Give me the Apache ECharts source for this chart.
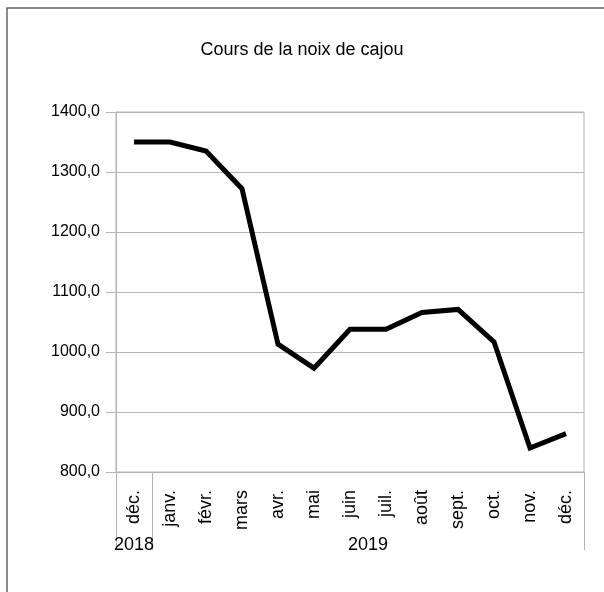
<!DOCTYPE html>
<html style="height: 100%">
<head>
    <meta charset="utf-8">
    <script src="https://cdn.jsdelivr.net/npm/echarts@6/dist/echarts.min.js"></script>
</head>
<body style="height: 100%; margin: 0; background: #fff">
<div id="container" style="width: 604px; height: 592px"></div>
<script type="text/javascript">
// mois (catégories) et cours
var months = ['déc.', 'janv.', 'févr.', 'mars', 'avr.', 'mai', 'juin', 'juil.', 'août', 'sept.', 'oct.', 'nov.', 'déc.'];
var prices = [1350, 1350, 1335, 1272, 1013, 973, 1038, 1038, 1066, 1071, 1017, 840, 864];
// second niveau : années et nombre de mois de chaque groupe
var years = ['2018', '2019'];
var yearSpans = [1, 12];

// bornes et centres des groupes d'années (en unités de catégories)
var yearBounds = [0];
var yearCenters = [];
yearSpans.forEach(function (n, i) {
    yearCenters.push(yearBounds[i] + n / 2);
    yearBounds.push(yearBounds[i] + n);
});

var gridColor = '#b3b3b3';
var font = 'Liberation Sans, Arial, sans-serif';

var myChart = echarts.init(document.getElementById('container'));
var option = {
    backgroundColor: '#fff',
    animation: false,
    title: {
        text: 'Cours de la noix de cajou',
        left: 'center',
        top: 36,
        textStyle: { color: '#000', fontSize: 18, fontWeight: 'normal', fontFamily: font }
    },
    graphic: [{
        type: 'rect',
        shape: { x: 7, y: 8, width: 800, height: 800 },
        style: { fill: null, stroke: '#666', lineWidth: 1.5 },
        silent: true
    }],
    grid: {
        left: 116, right: 20, top: 112, bottom: 120,
        show: true, borderColor: gridColor, borderWidth: 1
    },
    xAxis: [{
        type: 'category',
        data: months,
        boundaryGap: true,
        axisLine: { lineStyle: { color: gridColor } },
        axisTick: { length: 53, lineStyle: { color: gridColor } },
        axisLabel: {
            rotate: 90, margin: 18, interval: 0,
            color: '#000', fontSize: 18, fontFamily: font
        }
    }, {
        type: 'value',
        position: 'bottom',
        min: 0, max: yearBounds[yearBounds.length - 1],
        axisLine: { show: false },
        splitLine: { show: false },
        axisTick: {
            show: true, customValues: yearBounds, length: 78,
            lineStyle: { color: gridColor }
        },
        axisLabel: {
            customValues: yearCenters, margin: 64,
            color: '#000', fontSize: 18, fontFamily: font,
            formatter: function (v) {
                var i = yearCenters.indexOf(v);
                return i >= 0 ? years[i] : '';
            }
        }
    }],
    yAxis: {
        type: 'value',
        min: 800, max: 1400, interval: 100,
        axisLine: { show: true, lineStyle: { color: gridColor } },
        axisTick: { show: true, length: 10, lineStyle: { color: gridColor } },
        splitLine: { lineStyle: { color: gridColor } },
        axisLabel: {
            margin: 16, color: '#000', fontSize: 16, fontFamily: font,
            formatter: function (v) { return v.toFixed(1).replace('.', ','); }
        }
    },
    series: [{
        type: 'line',
        data: prices,
        xAxisIndex: 0,
        symbol: 'none',
        lineStyle: { color: '#000', width: 5, join: 'miter' }
    }]
};
myChart.setOption(option);
</script>
</body>
</html>
